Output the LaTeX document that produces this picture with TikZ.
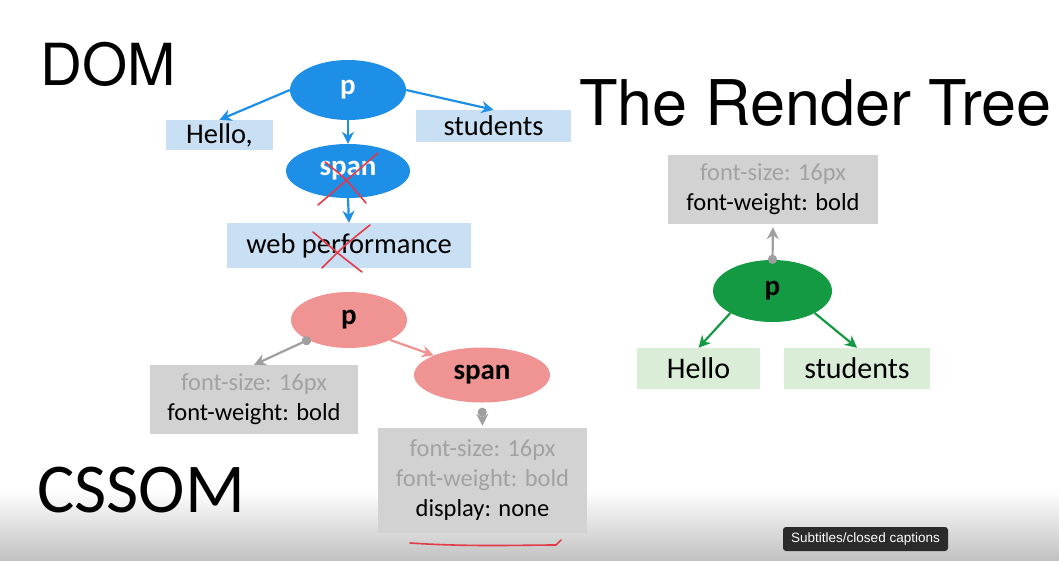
\documentclass[tikz,border=0pt]{standalone}
\usepackage{fontspec}
\setmainfont{Carlito}
\newfontfamily\headfont{TeX Gyre Heros}
\newfontfamily\uifont{Liberation Sans}
\usetikzlibrary{arrows.meta,positioning,shapes.geometric}

\definecolor{domblue}{HTML}{1E8FE6}
\definecolor{domlight}{HTML}{C9DFF3}
\definecolor{cssred}{HTML}{F09393}
\definecolor{cssgrey}{HTML}{D2D2D2}
\definecolor{softtext}{HTML}{A2A2A2}
\definecolor{rendergreen}{HTML}{149A42}
\definecolor{renderlight}{HTML}{D9EDD7}
\definecolor{markred}{HTML}{E23A48}
\definecolor{tipdark}{HTML}{2B2B2B}

\tikzstyle{title} = [anchor=base west, inner sep=0pt]
\tikzstyle{domnode} = [ellipse, fill=domblue, text=white, inner sep=0pt, font=\fontsize{29}{31}\selectfont\bfseries]
\tikzstyle{domtext} = [rectangle, fill=domlight, inner sep=0pt, font=\fontsize{28.5}{30}\selectfont]
\tikzstyle{cssnode} = [ellipse, fill=cssred, inner sep=0pt, font=\fontsize{29}{31}\selectfont\bfseries]
\tikzstyle{cssbox} = [rectangle, fill=cssgrey, inner sep=0pt, align=center, font=\fontsize{24.5}{30}\selectfont]
\tikzstyle{rendernode} = [ellipse, fill=rendergreen, inner sep=0pt, font=\fontsize{29}{31}\selectfont\bfseries]
\tikzstyle{rendertext} = [rectangle, fill=renderlight, inner sep=0pt, font=\fontsize{30}{32}\selectfont]
\tikzstyle{domarrow} = [draw=domblue, line width=2.2pt, -{Stealth[length=12pt,width=12pt]}]
\tikzstyle{cssarrow} = [draw=cssred, line width=2.2pt, -{Stealth[length=12pt,width=12pt]}]
\tikzstyle{greyarrow} = [draw=gray!75, line width=2.2pt, {Circle[length=9pt]}-{Stealth[length=12pt,width=12pt]}]
\tikzstyle{greenarrow} = [draw=rendergreen, line width=2.2pt, -{Stealth[length=12pt,width=12pt]}]
\tikzstyle{redmark} = [draw=markred, line width=1.6pt, line cap=round]

\begin{document}
\begin{tikzpicture}[x=1pt, y=-1pt]
 \useasboundingbox (0,0) rectangle (1059,560);
 \shade[top color=white, bottom color=black!24] (0,490) rectangle (1059,560);

 % headings
 \node (domtitle) [title] at (40,85) {\headfont\fontsize{58}{58}\selectfont DOM};
 \node (rendertitle) [title] at (579,125) {\headfont\fontsize{63}{63}\selectfont The Render Tree};
 \node (csstitle) [title] at (37,512) {\fontsize{70}{70}\selectfont CSSOM};

 % DOM tree
 \node (domp) [domnode, minimum width=116pt, minimum height=60pt] at (348,90) {p};
 \node (hello) [domtext, minimum width=107pt, minimum height=30pt] at (219.5,135) {Hello,};
 \node (students) [domtext, minimum width=155pt, minimum height=32pt] at (493.5,126) {students};
 \node (domspan) [domnode, minimum width=124pt, minimum height=54pt] at (348,171) {span};
 \node (webperf) [domtext, minimum width=244pt, minimum height=45pt] at (349,245.5) {web performance};
 \draw[domarrow] (domp.west) -- (hello.north);
 \draw[domarrow] (domp.east) -- (students.north);
 \draw[domarrow] (domp.south) -- (domspan.north);
 \draw[domarrow] (domspan.south) -- (webperf.north);
 \draw[redmark] (318,205) -- (378,153);
 \draw[redmark] (325,162) .. controls (345,178) .. (366,203);
 \draw[redmark] (322,268) .. controls (345,245) .. (370,225);
 \draw[redmark] (313,232) .. controls (340,255) .. (362,272);

 % CSSOM tree
 \node (cssp) [cssnode, minimum width=116pt, minimum height=56pt] at (349,320) {p};
 \node (cssspan) [cssnode, minimum width=136pt, minimum height=55pt] at (482,375) {span};
 \node (pstyle) [cssbox, minimum width=208pt, minimum height=69pt] at (254,399.5)
  {\textcolor{softtext}{font-size: 16px}\\font-weight: bold};
 \node (spanstyle) [cssbox, minimum width=209pt, minimum height=105pt] at (482.5,480.5)
  {\textcolor{softtext}{font-size: 16px}\\\textcolor{softtext}{font-weight: bold}\\display: none};
 \draw[greyarrow, shorten <=-3pt] (cssp.south west) -- (pstyle.north);
 \draw[cssarrow] (cssp.south east) -- (cssspan.north west);
 \draw[greyarrow, shorten <=5pt, shorten >=2pt] (cssspan.south) -- (spanstyle.north);
 \draw[redmark] (410,543) .. controls (470,547) and (520,545) .. (556,545) -- (561,540);

 % render tree
 \node (rstyle) [cssbox, minimum width=210pt, minimum height=69pt] at (773,189.5)
  {\textcolor{softtext}{font-size: 16px}\\font-weight: bold};
 \node (rp) [rendernode, minimum width=119pt, minimum height=62pt] at (772.5,291) {p};
 \node (rhello) [rendertext, minimum width=123pt, minimum height=41pt] at (698.5,368.5) {Hello};
 \node (rstudents) [rendertext, minimum width=146pt, minimum height=41pt] at (857,368.5) {students};
 \draw[greyarrow, shorten <=-4pt, shorten >=3pt] (rp.north) -- (rstyle.south);
 \draw[greenarrow] (rp.south west) -- (rhello.north);
 \draw[greenarrow] (rp.south east) -- (rstudents.north);

 % player tooltip
 \node (caption) [rectangle, rounded corners=3pt, fill=tipdark, text=white, minimum width=165pt, minimum height=24pt, inner sep=0pt, font=\uifont\fontsize{13.5}{15}\selectfont] at (865.5,539) {Subtitles/closed captions};
\end{tikzpicture}
\end{document}
